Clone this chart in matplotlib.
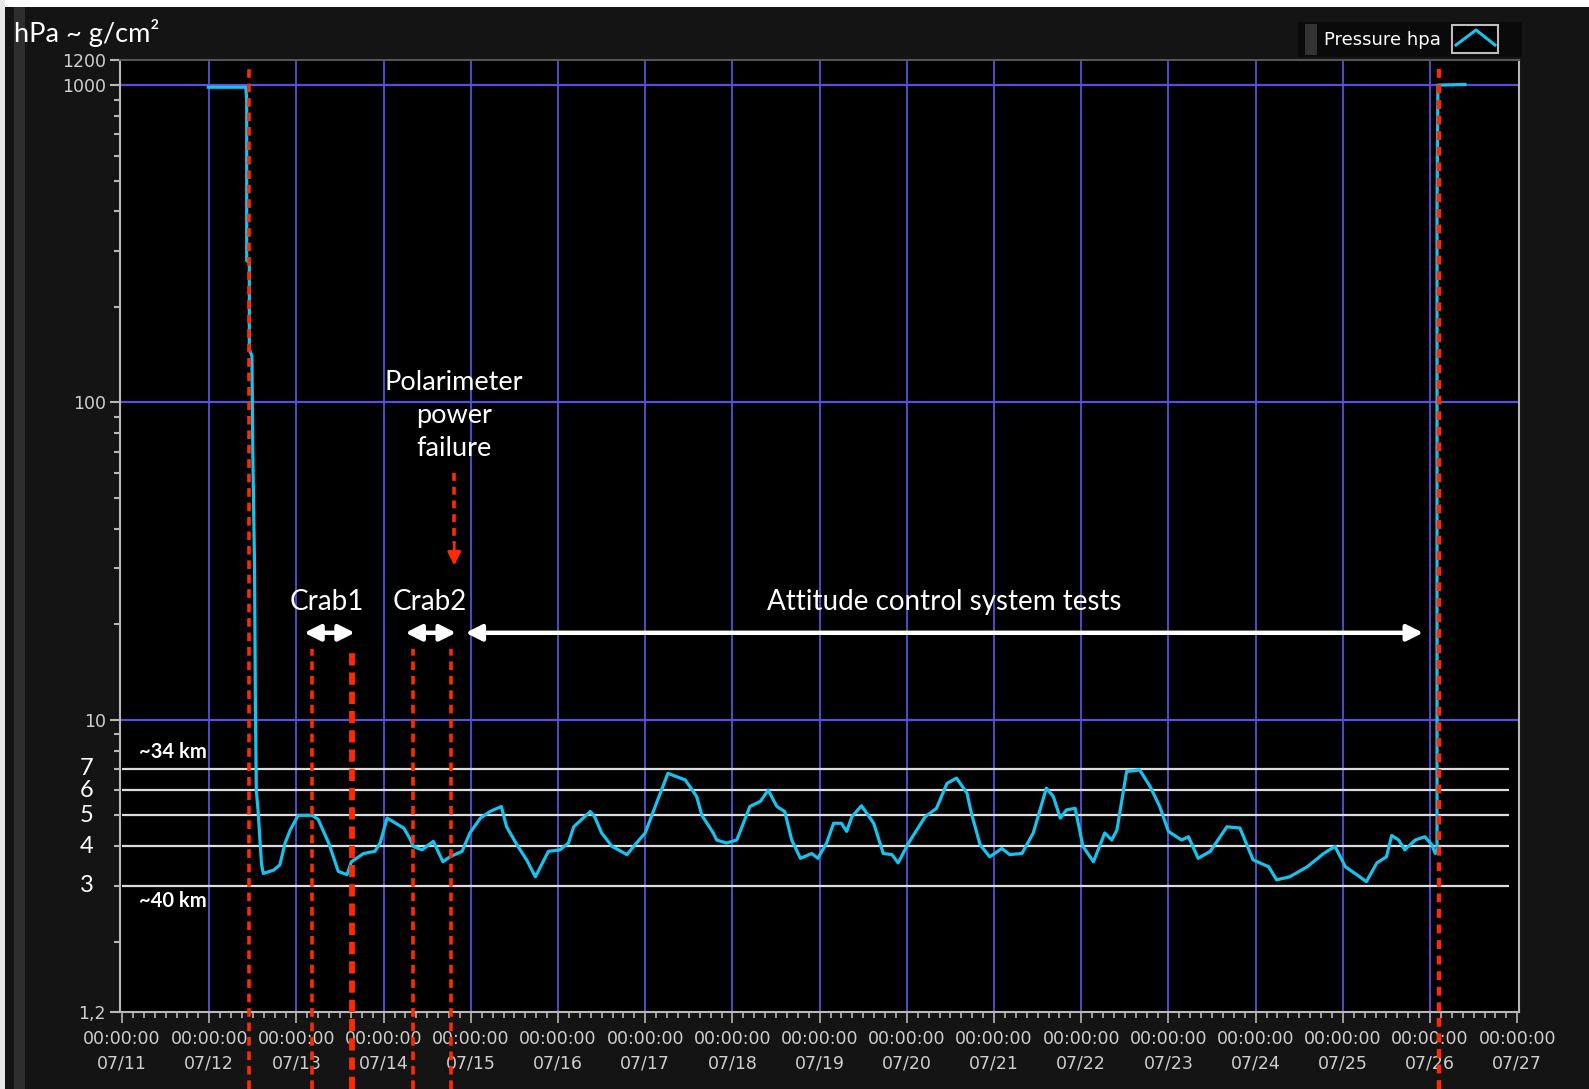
#!/usr/bin/env python3
"""Balloon flight pressure log (LabVIEW style) redrawn with matplotlib."""

import matplotlib
matplotlib.use("Agg")
import matplotlib.pyplot as plt
from matplotlib.lines import Line2D
from matplotlib.patches import Rectangle
from matplotlib.ticker import FixedLocator, NullFormatter

# --- data ------------------------------------------------------------------
# x = days since 07/11 00:00:00, y = pressure in hPa
flight_day = [
    0.99, 1.42, 1.43, 1.43, 1.46, 1.46, 1.49, 1.50, 1.51, 1.52, 1.53, 1.54,
    1.56, 1.60, 1.62, 1.74, 1.81, 1.87, 1.93, 2.02, 2.18, 2.25, 2.37, 2.48,
    2.58, 2.63, 2.77, 2.90, 2.96, 3.04, 3.23, 3.30, 3.34, 3.44, 3.57, 3.68,
    3.76, 3.90, 3.99, 4.11, 4.22, 4.35, 4.41, 4.54, 4.64, 4.74, 4.81, 4.89,
    5.02, 5.12, 5.18, 5.37, 5.42, 5.50, 5.62, 5.79, 5.90, 6.00, 6.13, 6.26,
    6.46, 6.59, 6.65, 6.78, 6.82, 6.93, 7.05, 7.20, 7.32, 7.41, 7.51, 7.60,
    7.68, 7.78, 7.91, 7.98, 8.08, 8.16, 8.25, 8.31, 8.37, 8.48, 8.62, 8.73,
    8.83, 8.90, 9.02, 9.21, 9.34, 9.46, 9.57, 9.69, 9.74, 9.84, 9.95, 10.09,
    10.18, 10.32, 10.45, 10.60, 10.68, 10.76, 10.83, 10.93, 11.02, 11.14,
    11.27, 11.35, 11.41, 11.52, 11.67, 11.79, 11.90, 12.00, 12.15, 12.23,
    12.34, 12.48, 12.67, 12.82, 12.97, 13.15, 13.24, 13.39, 13.59, 13.78,
    13.91, 14.03, 14.16, 14.27, 14.39, 14.50, 14.56, 14.64, 14.71, 14.83,
    14.94, 15.02, 15.06, 15.08, 15.08, 15.09, 15.40,
]
pressure_hpa = [
    985, 985, 900, 280, 275, 147, 140, 70, 47, 30, 11, 6.0,
    5.2, 3.5, 3.28, 3.36, 3.49, 4.09, 4.5, 5.0, 5.0, 4.85, 4.09, 3.33,
    3.25, 3.57, 3.79, 3.85, 4.09, 4.9, 4.56, 4.23, 3.99, 3.89, 4.14, 3.57,
    3.7, 3.85, 4.4, 4.9, 5.14, 5.33, 4.6, 3.99, 3.62, 3.2, 3.49, 3.85,
    3.89, 4.09, 4.6, 5.14, 4.95, 4.4, 3.99, 3.76, 4.09, 4.4, 5.47, 6.78,
    6.46, 5.73, 5.0, 4.4, 4.18, 4.09, 4.18, 5.33, 5.53, 6.0, 5.33, 5.14,
    4.18, 3.66, 3.79, 3.66, 4.09, 4.72, 4.72, 4.45, 4.95, 5.36, 4.72, 3.79,
    3.76, 3.54, 4.09, 4.95, 5.26, 6.3, 6.55, 5.87, 5.08, 4.04, 3.7, 3.93,
    3.76, 3.79, 4.4, 6.09, 5.73, 4.9, 5.2, 5.26, 3.99, 3.57,
    4.4, 4.18, 4.5, 6.87, 6.95, 6.16, 5.33, 4.45, 4.18, 4.28,
    3.66, 3.85, 4.6, 4.56, 3.62, 3.44, 3.13, 3.2, 3.44, 3.79,
    3.99, 3.44, 3.25, 3.09, 3.54, 3.7, 4.32, 4.18, 3.89, 4.18,
    4.28, 4.04, 3.79, 3.9, 400, 1000, 1005,
]

day_labels = ["07/11", "07/12", "07/13", "07/14", "07/15", "07/16", "07/17",
              "07/18", "07/19", "07/20", "07/21", "07/22", "07/23", "07/24",
              "07/25", "07/26", "07/27"]
y_major = [1.2, 10, 100, 1000, 1200]
y_major_labels = ["1,2", "10", "100", "1000", "1200"]
altitude_levels = [3, 4, 5, 6, 7]

# event markers (days)
launch_day = 1.46
crab1_window = [2.18, 2.64]
crab2_window = [3.34, 3.77]
end_day = 15.10
polarimeter_day = 3.81

BG = "#141414"
GRID = "#5650dc"
CYAN = "#14c4ee"
RED = "#ff2a00"
TICK = "#cfcfcf"
FONT = ["Lato", "DejaVu Sans"]
NARROW = ["Liberation Sans Narrow", "DejaVu Sans"]

W, H = 1589, 1089
fig = plt.figure(figsize=(W / 100, H / 100), dpi=100, facecolor=BG)

# screenshot frame pieces
fig.add_artist(Rectangle((0, 1 - 7 / H), 1, 7 / H, transform=fig.transFigure,
                         facecolor="white", edgecolor="none", zorder=0))
fig.add_artist(Rectangle((0, 0), 5 / W, 1, transform=fig.transFigure,
                         facecolor="#e8e8e8", edgecolor="none", zorder=0))
fig.add_artist(Rectangle((14 / W, 0), 11 / W, 1 - 7 / H, transform=fig.transFigure,
                         facecolor="#2e2e2e", edgecolor="none", zorder=0))

ax = fig.add_axes([120 / W, 1 - 1012 / H, 1399 / W, 952 / H])
ax.set_facecolor("black")
ax.set_yscale("log")
ax.set_xlim(-0.023, 16.02)
ax.set_ylim(1.2, 1200)

for side in ["left", "bottom", "right"]:
    ax.spines[side].set_color("#b8b8b8")
    ax.spines[side].set_linewidth(1.5)
ax.spines["top"].set_color("#555555")
ax.spines["top"].set_linewidth(1.5)

# x axis: one major tick per day, minor every 3 hours
days = list(range(len(day_labels)))
ax.set_xticks(days)
ax.set_xticklabels([f"00:00:00\n{d}" for d in day_labels], fontfamily=NARROW,
                   fontsize=12.5, color=TICK, linespacing=1.45)
ax.set_xticks([d + k / 8 for d in days[:-1] for k in range(1, 8)], minor=True)
ax.tick_params(axis="x", which="major", length=8, width=1.2, color="#b8b8b8", pad=5)
ax.tick_params(axis="x", which="minor", length=4, width=1.2, color="#b8b8b8")

# y axis
ax.yaxis.set_major_locator(FixedLocator(y_major))
ax.set_yticklabels(y_major_labels, fontfamily=NARROW, fontsize=12.5, color=TICK)
ax.yaxis.set_minor_locator(FixedLocator([m * 10 ** e for e in range(3) for m in range(2, 10)]))
ax.yaxis.set_minor_formatter(NullFormatter())
ax.tick_params(axis="y", which="major", length=7, width=1.5, color="#b8b8b8", pad=3)
ax.tick_params(axis="y", which="minor", length=4, width=1.5, color="#b8b8b8")

# blue grid
for d in days[1:-1]:
    ax.axvline(d, color=GRID, lw=1.3, zorder=1)
for g in [10, 100, 1000]:
    ax.axhline(g, color=GRID, lw=1.6, zorder=1)

# altitude reference lines
ax.hlines(altitude_levels, 0.0, 15.9, color="#dcdcdc", lw=1.6, zorder=2)
for lvl in altitude_levels:
    ax.text(-0.024, lvl, str(lvl), transform=ax.get_yaxis_transform(),
            ha="center", va="center", fontsize=17, color="white", family=FONT)
ax.text(0.2, 7.9, "~34 km", fontsize=14.5, color="white", family=FONT,
        fontweight="bold", va="center")
ax.text(0.2, 2.69, "~40 km", fontsize=14.5, color="white", family=FONT,
        fontweight="bold", va="center")

# pressure trace
ax.plot(flight_day, pressure_hpa, color=CYAN, lw=2.3, zorder=4)

# red dashed event lines (run past the axes to the picture bottom)
xt = ax.get_xaxis_transform()
full = (-0.081, 0.992)
low = (-0.081, 0.381)
for x, span, lw, dash in [
    (launch_day, full, 2.6, (2.4, 1.6)),
    (crab1_window[0], low, 2.6, (2.4, 1.6)),
    (crab1_window[1], low, 4.2, (2.1, 1.2)),
    (crab2_window[0], low, 2.6, (2.4, 1.6)),
    (crab2_window[1], low, 2.6, (2.4, 1.6)),
    (end_day, full, 3.2, (2.0, 1.5)),
]:
    ax.plot([x, x], span, transform=xt, color=RED, lw=lw, dashes=dash,
            clip_on=False, zorder=6)

# polarimeter failure pointer
ax.plot([polarimeter_day, polarimeter_day], [60, 36], color=RED, lw=2.6,
        dashes=(2.2, 1.6), zorder=6)
ax.annotate("", xy=(polarimeter_day, 30), xytext=(polarimeter_day, 37),
            arrowprops=dict(arrowstyle="-|>", color=RED, lw=2, mutation_scale=20),
            zorder=6)
ax.text(polarimeter_day, 91, "Polarimeter\npower\nfailure", ha="center",
        va="center", fontsize=19.5, color="white", family=FONT, linespacing=1.38)

# observation windows
arrow_y = 18.8
for x1, x2 in [(2.09, 2.67), (3.25, 3.83), (3.94, 14.92)]:
    ax.annotate("", xy=(x2, arrow_y), xytext=(x1, arrow_y),
                arrowprops=dict(arrowstyle="<|-|>", color="white", lw=3.2,
                                mutation_scale=24, shrinkA=0, shrinkB=0),
                zorder=5)
ax.text(2.35, 23.5, "Crab1", ha="center", va="center", fontsize=20,
        color="white", family=FONT)
ax.text(3.53, 23.5, "Crab2", ha="center", va="center", fontsize=20,
        color="white", family=FONT)
ax.text(9.43, 23.5, "Attitude control system tests", ha="center", va="center",
        fontsize=20, color="white", family=FONT)

# axis title
fig.text(14 / W, 1 - 33 / H, "hPa ~ g/cm²", fontsize=19.5, color="white",
         family=FONT, va="center", ha="left")

# LabVIEW-like legend box
fig.add_artist(Rectangle((1298 / W, 1 - 57 / H), 224 / W, 35 / H,
                         transform=fig.transFigure, facecolor="#0a0a0a",
                         edgecolor="none"))
fig.add_artist(Rectangle((1305 / W, 1 - 55 / H), 12 / W, 31 / H,
                         transform=fig.transFigure, facecolor="#333333",
                         edgecolor="none"))
fig.text(1324 / W, 1 - 40 / H, "Pressure hpa", fontsize=13, color="white",
         family=NARROW, va="center", ha="left")
fig.add_artist(Rectangle((1452 / W, 1 - 53 / H), 46 / W, 28 / H,
                         transform=fig.transFigure, facecolor="black",
                         edgecolor="#bdbdbd", lw=1.5))
fig.add_artist(Line2D([1456 / W, 1476 / W, 1495 / W],
                      [1 - 45 / H, 1 - 30 / H, 1 - 45 / H],
                      transform=fig.transFigure, color=CYAN, lw=2.2))

fig.savefig("out.png", dpi=100, facecolor=BG)
